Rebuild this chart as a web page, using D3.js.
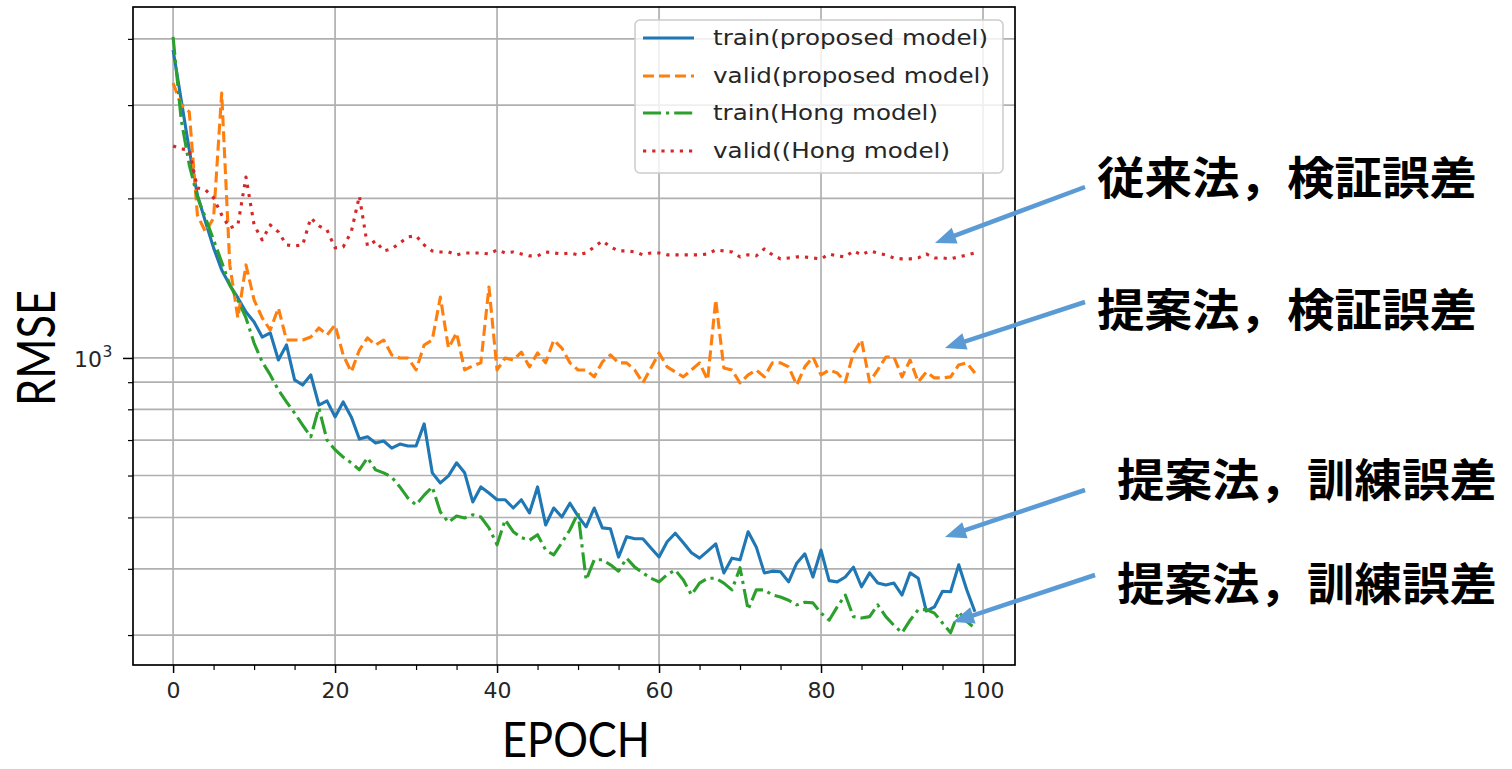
<!DOCTYPE html>
<html><head><meta charset="utf-8">
<script src="https://cdn.jsdelivr.net/npm/d3@7"></script>
<style>body{margin:0;background:#fff} svg{display:block}</style>
</head><body><svg id="c" width="1512" height="769"></svg>
<script>
// ---------------- data ----------------
const epochs = d3.range(100);
const trainProposed = [3813,3067,2469,2030,1806,1613,1466,1373,1298,1221,
 1169,1095,1115,991,1058,909,889,929,815,830,
 774,826,774,703,710,691,697,676,688,682,
 682,751,607,581,599,634,607,535,571,556,
 540,540,521,540,510,571,484,521,501,532,
 503,480,521,478,476,421,460,456,456,438,
 421,450,467,448,429,419,432,446,393,419,
 416,470,440,393,396,395,378,410,427,386,
 434,380,378,386,403,370,393,376,373,376,
 357,393,384,333,339,363,362,407,365,332];
const validProposed = [3303,3001,2912,1861,1729,1837,3162,1498,1190,1498,
 1287,1190,1129,1243,1081,1081,1081,1095,1139,1105,
 1154,1013,941,1035,1091,1058,1081,1013,1000,1000,
 949,1058,1081,1303,1044,1115,949,966,979,1361,
 949,1000,991,1026,962,1022,979,1081,1044,979,
 949,949,921,983,1013,979,979,949,897,957,
 1022,962,941,921,949,979,909,1287,957,949,
 897,929,949,921,979,979,962,889,962,1004,
 929,949,937,901,1022,1081,901,949,1004,1004,
 921,991,901,941,917,917,921,970,979,937];
const trainHong = [4034,2813,2312,2012,1837,1670,1517,1373,1287,1190,
 1067,983,929,870,826,787,747,710,805,700,
 671,650,634,615,648,615,607,596,571,544,
 528,551,571,512,490,503,499,506,501,478,
 444,495,470,458,453,464,434,425,448,474,
 510,381,416,416,407,396,419,403,393,384,
 378,390,398,381,357,376,384,384,376,365,
 402,335,365,365,357,354,349,342,346,345,
 330,320,339,357,325,323,325,342,325,313,
 303,320,335,335,330,316,303,332,318,309];
const validHong = [2512,2480,2469,2093,2075,2004,1861,1759,1782,2195,
 1782,1670,1782,1729,1634,1627,1634,1837,1775,1744,
 1613,1620,1729,2021,1627,1663,1592,1606,1648,1692,
 1700,1634,1592,1585,1585,1565,1578,1578,1578,1571,
 1599,1578,1585,1571,1558,1558,1585,1578,1571,1578,
 1565,1578,1620,1663,1620,1592,1592,1585,1565,1578,
 1578,1565,1565,1565,1565,1565,1571,1599,1592,1585,
 1551,1565,1558,1606,1565,1538,1544,1551,1551,1544,
 1538,1571,1558,1551,1592,1565,1592,1578,1565,1544,
 1538,1538,1544,1571,1544,1544,1538,1551,1565,1578];
const seriesNames = ["train(proposed model)","valid(proposed model)","train(Hong model)","valid((Hong model)"];
const xTicks = [0,20,40,60,80,100];
const xMinorTicks = d3.range(-0,105,5).filter(v => v % 20 !== 0);
const yMajorTicks = [1000];
const yMinorTicks = [300,400,500,600,700,800,900,2000,3000,4000];
const xLabel = "EPOCH";
const yLabel = "RMSE";
const annotations = ["従来法，検証誤差","提案法，検証誤差","提案法，訓練誤差","提案法，訓練誤差"];

// ---------------- layout ----------------
const svg = d3.select("#c");
const L=133,R=1015,T=7,B=665;
const x = d3.scaleLinear().domain([-4.95,103.95]).range([L,R]);
const y = d3.scaleLog().domain([263.4,4594]).range([B,T]);
const tickFont = "'DejaVu Sans', sans-serif";
const LW = 3.1;

svg.append("rect").attr("width",1512).attr("height",769).attr("fill","#fff");

// grid
const grid = svg.append("g");
grid.selectAll("line.gy").data([...yMinorTicks, ...yMajorTicks]).join("line").attr("class","gy")
  .attr("x1",L).attr("x2",R).attr("y1",d=>y(d)).attr("y2",d=>y(d))
  .attr("stroke","#b0b0b0").attr("stroke-width",1.7);
grid.selectAll("line.gx").data(xTicks).join("line").attr("class","gx")
  .attr("y1",T).attr("y2",B).attr("x1",d=>x(d)).attr("x2",d=>x(d))
  .attr("stroke","#b0b0b0").attr("stroke-width",1.7);

// series
const series = [
  {name:seriesNames[0], values:trainProposed, color:"#1f77b4", dash:null},
  {name:seriesNames[1], values:validProposed, color:"#ff7f0e", dash:"11,5"},
  {name:seriesNames[2], values:trainHong,     color:"#2ca02c", dash:"18,5,3.2,5"},
  {name:seriesNames[3], values:validHong,     color:"#d62728", dash:"3.2,6"}
];
svg.append("clipPath").attr("id","clip").append("rect")
  .attr("x",L).attr("y",T).attr("width",R-L).attr("height",B-T);
const line = d3.line().x((d,i)=>x(epochs[i])).y(d=>y(d));
svg.append("g").attr("clip-path","url(#clip)")
  .selectAll("path").data(series).join("path")
  .attr("d",s=>line(s.values))
  .attr("fill","none").attr("stroke",s=>s.color).attr("stroke-width",LW)
  .attr("stroke-dasharray",s=>s.dash).attr("stroke-linejoin","round");

// axes
const ax = svg.append("g").attr("transform",`translate(0,${B})`)
  .call(d3.axisBottom(x).tickValues(xTicks).tickSize(8).tickPadding(9).tickFormat(d3.format("d")));
ax.select(".domain").remove();
ax.selectAll("line").attr("stroke","#000").attr("stroke-width",1.5);
ax.selectAll("text").attr("font-family",tickFont).attr("font-size",22).attr("fill","#262626");
const axm = svg.append("g").attr("transform",`translate(0,${B})`)
  .call(d3.axisBottom(x).tickValues(xMinorTicks).tickSize(5).tickFormat(""));
axm.select(".domain").remove();
axm.selectAll("line").attr("stroke","#000").attr("stroke-width",1.2);

const ay = svg.append("g").attr("transform",`translate(${L},0)`)
  .call(d3.axisLeft(y).tickValues(yMajorTicks).tickSize(10).tickFormat(""));
ay.select(".domain").remove();
ay.selectAll("line").attr("stroke","#000").attr("stroke-width",1.5);
const aym = svg.append("g").attr("transform",`translate(${L},0)`)
  .call(d3.axisLeft(y).tickValues(yMinorTicks).tickSize(5).tickFormat(""));
aym.select(".domain").remove();
aym.selectAll("line").attr("stroke","#000").attr("stroke-width",1.2);

// 10^3 label
yMajorTicks.forEach(v=>{
  const e = Math.round(Math.log10(v));
  svg.append("text").attr("x",102).attr("y",y(v)+9).attr("text-anchor","end")
    .attr("font-family",tickFont).attr("font-size",22).attr("fill","#262626").text("10");
  svg.append("text").attr("x",102.5).attr("y",y(v)-0.5)
    .attr("font-family",tickFont).attr("font-size",15.5).attr("fill","#262626").text(String(e));
});

// spines
svg.append("rect").attr("x",L).attr("y",T).attr("width",R-L).attr("height",B-T)
  .attr("fill","none").attr("stroke","#000").attr("stroke-width",1.7);

// legend
const lg = svg.append("g");
lg.append("rect").attr("x",635).attr("y",20).attr("width",368).attr("height",153).attr("rx",5)
  .attr("fill","#fff").attr("fill-opacity",0.8).attr("stroke","#cccccc").attr("stroke-width",1.5);
const rowY = [38,76,113,151];
const textW = [275,277,225,237];
series.forEach((s,i)=>{
  lg.append("line").attr("x1",643).attr("x2",694).attr("y1",rowY[i]).attr("y2",rowY[i])
    .attr("stroke",s.color).attr("stroke-width",LW).attr("stroke-dasharray",s.dash);
  lg.append("text").attr("x",713).attr("y",rowY[i]+7)
    .attr("font-family",tickFont).attr("font-size",21).attr("fill","#262626")
    .attr("textLength",textW[i]).attr("lengthAdjust","spacingAndGlyphs").text(s.name);
});

// axis titles
svg.append("text").attr("x",576).attr("y",757).attr("text-anchor","middle")
  .attr("font-family","Lato, 'Open Sans', sans-serif").attr("font-size",49).attr("fill","#000")
  .attr("textLength",148).attr("lengthAdjust","spacingAndGlyphs").text(xLabel);
svg.append("text").attr("transform","translate(55,348) rotate(-90)").attr("text-anchor","middle")
  .attr("font-family","Lato, 'Open Sans', sans-serif").attr("font-size",52).attr("fill","#000")
  .attr("textLength",116).attr("lengthAdjust","spacingAndGlyphs").text(yLabel);

// annotations
const annX = [1097,1097,1117,1117];
const annY = [195,327,497,601];
annotations.forEach((t,i)=>{
  svg.append("text").attr("x",annX[i]).attr("y",annY[i])
    .attr("font-family","'Noto Sans CJK JP', sans-serif").attr("font-weight","bold")
    .attr("font-size",45).attr("fill","#000")
    .attr("textLength",380).attr("lengthAdjust","spacingAndGlyphs").text(t);
});
const arrows = [[1085,187,935,243],[1085,302,945,348],[1085,490,945,537],[1095,575,953,622]];
const ac = "#5b9bd5";
arrows.forEach(([x1,y1,x2,y2])=>{
  const a = Math.atan2(y2-y1,x2-x1), hl=21, hw=8.5;
  const bx = x2 - hl*Math.cos(a), by = y2 - hl*Math.sin(a);
  svg.append("line").attr("x1",x1).attr("y1",y1).attr("x2",bx+2*Math.cos(a)).attr("y2",by+2*Math.sin(a))
    .attr("stroke",ac).attr("stroke-width",4.5);
  const px = -Math.sin(a), py = Math.cos(a);
  svg.append("polygon").attr("points",
    `${x2},${y2} ${bx+hw*px},${by+hw*py} ${bx-hw*px},${by-hw*py}`).attr("fill",ac);
});
</script></body></html>
